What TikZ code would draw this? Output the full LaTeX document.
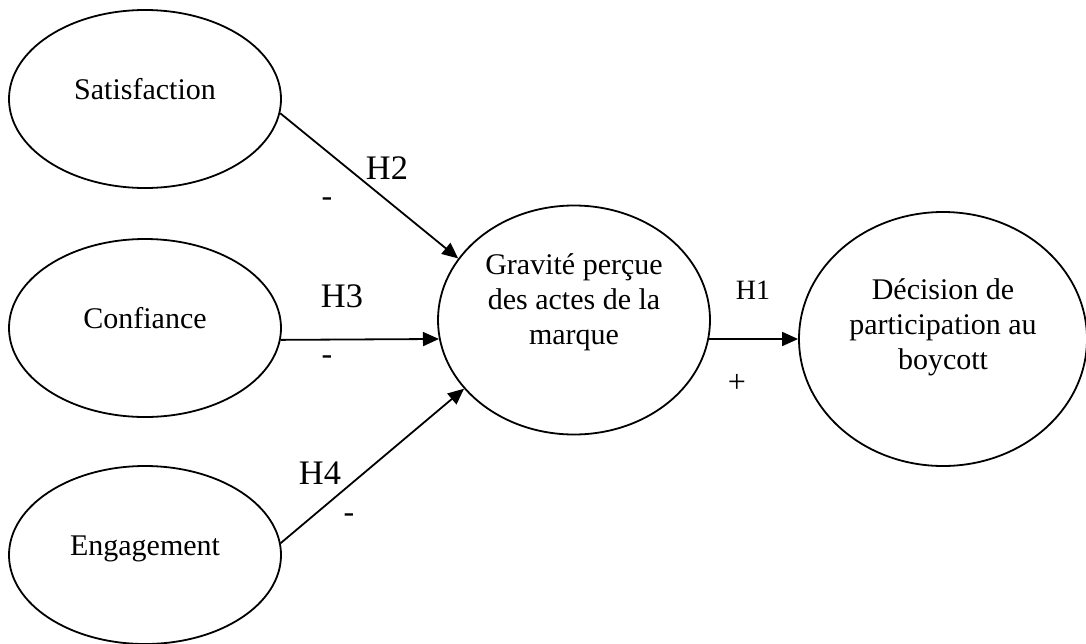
\documentclass[tikz,border=0pt]{standalone}
\usepackage{fontspec}
\setmainfont{Liberation Serif}
\usetikzlibrary{shapes.geometric,arrows.meta}

\tikzset{
  latent/.style={ellipse,draw,line width=0.9pt,inner sep=0pt,align=center,
    font=\fontsize{15}{17.5}\selectfont},
  small/.style={minimum width=136pt,minimum height=89pt,text height=10pt,text depth=10pt},
  path/.style={-{Triangle[length=8pt,width=7pt]},line width=0.9pt},
  hyp/.style={font=\fontsize{17.2}{20}\selectfont,inner sep=0pt},
  sign/.style={font=\fontsize{16}{18}\selectfont,inner sep=0pt}
}

\begin{document}
\begin{tikzpicture}[x=0.5pt,y=-0.5pt]
      \useasboundingbox (0,0) rectangle (1086,643);
      \clip (0,0) rectangle (1086,643);
      \node[latent,small] (sat) at (145,99) {Satisfaction};
      \node[latent,small] (conf) at (145,328) {Confiance};
      \node[latent,small] (eng) at (145,555) {Engagement};
      \node[latent,minimum width=136pt,minimum height=114.5pt,text depth=21pt] (grav) at (574,320)
        {Gravité perçue\\des actes de la\\marque};
      \node[latent,minimum width=144pt,minimum height=127pt,text depth=15pt] (dec) at (943,339)
        {Décision de\\participation au\\boycott};

      \draw[path] (sat.-6) -- (grav.152);
      \draw[path] (conf.-5) -- (grav.188);
      \draw[path] (eng.5) -- (grav.212);
      \draw[path] (grav.-8) -- (dec.west);

      \node[hyp] (h2) at (387,168) {H2};
      \node[hyp] (h3) at (342,296) {H3};
      \node[hyp] (h4) at (320,473) {H4};
      \node[hyp,font=\fontsize{14}{17}\selectfont] (h1) at (753,290) {H1};
      \node[sign] (s2) at (327,202) {-};
      \node[sign] (s3) at (327,360) {-};
      \node[sign] (s4) at (349,518) {-};
      \node[sign] (s1) at (737,383) {+};
\end{tikzpicture}
\end{document}
